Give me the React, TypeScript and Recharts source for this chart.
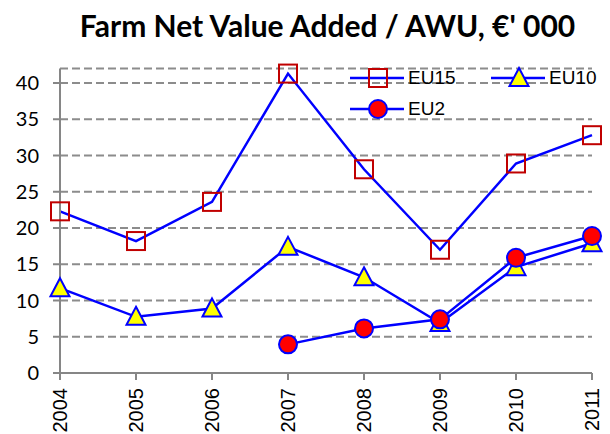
import React from "react";
import { LineChart, Line, XAxis, YAxis, CartesianGrid } from "recharts";

const years = ["2004", "2005", "2006", "2007", "2008", "2009", "2010", "2011"];
const eu15 = [22.3, 18.2, 23.6, 41.3, 28.1, 17.0, 28.9, 32.8];
const eu10 = [11.7, 7.75, 8.9, 17.4, 13.2, 6.9, 14.6, 17.9];
const eu2 = [null, null, null, 3.95, 6.15, 7.4, 15.9, 18.9];
const yTicks = [0, 5, 10, 15, 20, 25, 30, 35, 40];
const seriesNames = ["EU15", "EU10", "EU2"];

const data = years.map((y, i) => ({
  year: y,
  EU15: eu15[i],
  EU10: eu10[i],
  EU2: eu2[i],
}));

const LINE = "#0000FF";
const AXIS = "#868686";

function Square({ cx, cy }: { cx: number; cy: number }) {
  return (
    <rect x={cx - 9} y={cy - 9} width={18} height={18} fill="none" stroke="#C00000" strokeWidth={2} />
  );
}

function Triangle({ cx, cy }: { cx: number; cy: number }) {
  return (
    <polygon
      points={`${cx},${cy - 10} ${cx + 9.5},${cy + 8} ${cx - 9.5},${cy + 8}`}
      fill="#FFFF00"
      stroke={LINE}
      strokeWidth={2}
    />
  );
}

function Circle({ cx, cy }: { cx: number; cy: number }) {
  return <circle cx={cx} cy={cy} r={9} fill="#FF0000" stroke={LINE} strokeWidth={2} />;
}

const markers: Record<string, (p: { cx: number; cy: number }) => React.ReactElement> = {
  EU15: Square,
  EU10: Triangle,
  EU2: Circle,
};

function makeDot(name: string) {
  const Mark = markers[name];
  return (props: any) => {
    const { cx, cy, value, index } = props;
    if (value == null || cx == null || cy == null) return <g key={`${name}-${index}`} />;
    return (
      <g key={`${name}-${index}`}>
        <Mark cx={cx} cy={cy} />
      </g>
    );
  };
}

function YearTick(props: any) {
  const { x, y, payload } = props;
  return (
    <g transform={`translate(${x},${y})`}>
      <text
        x={0}
        y={0}
        dy="0.36em"
        textAnchor="end"
        transform="rotate(-90)"
        fill="#000"
        fontSize={20}
        fontFamily="'Liberation Sans', Arial, sans-serif"
      >
        {payload.value}
      </text>
    </g>
  );
}

// legend drawn as an overlay so it doesn't eat into the plot area
function LegendBox() {
  return (
    <div
      style={{
        position: "absolute",
        left: 350,
        top: 62,
        display: "flex",
        flexWrap: "wrap",
        width: 282,
      }}
    >
      {seriesNames.map((name) => {
        const Mark = markers[name];
        return (
          <div key={name} style={{ display: "flex", alignItems: "center", width: 141, height: 31 }}>
            <svg width={56} height={24} style={{ display: "block" }}>
              <line x1={0} y1={12} x2={54} y2={12} stroke={LINE} strokeWidth={2.5} />
              <Mark cx={28} cy={12} />
            </svg>
            <span
              style={{
                fontFamily: "'Liberation Sans', Arial, sans-serif",
                fontSize: 19,
                color: "#000",
                marginLeft: 2,
              }}
            >
              {name}
            </span>
          </div>
        );
      })}
    </div>
  );
}

export default function App() {
  return (
    <div style={{ position: "absolute", left: 0, top: 0, width: 610, height: 434, background: "#fff" }}>
      <div
        style={{
          position: "absolute",
          left: 0,
          top: 7,
          width: 655,
          textAlign: "center",
          fontFamily: "Lato, sans-serif",
          fontWeight: 700,
          fontSize: 30,
          lineHeight: "36px",
          color: "#000",
          whiteSpace: "nowrap",
        }}
      >
        Farm Net Value Added / AWU, €' 000
      </div>
      <LineChart
        width={610}
        height={434}
        data={data}
        margin={{ top: 68.5, right: 18, bottom: 0, left: 0 }}
      >
        <CartesianGrid
          vertical={false}
          stroke="#8C8C8C"
          strokeWidth={2}
          strokeDasharray="8 4"
        />
        <XAxis
          dataKey="year"
          height={61}
          interval={0}
          tick={<YearTick />}
          tickSize={7}
          tickMargin={8}
          axisLine={{ stroke: AXIS, strokeWidth: 2 }}
          tickLine={{ stroke: AXIS, strokeWidth: 2 }}
        />
        <YAxis
          domain={[0, 42]}
          ticks={yTicks}
          interval={0}
          width={60}
          tickSize={7}
          tickMargin={14}
          tick={{ fill: "#000", fontSize: 20, fontFamily: "Lato, sans-serif" }}
          axisLine={{ stroke: AXIS, strokeWidth: 2 }}
          tickLine={{ stroke: AXIS, strokeWidth: 2 }}
        />
        {seriesNames.map((name) => (
          <Line
            key={name}
            dataKey={name}
            stroke={LINE}
            strokeWidth={2.5}
            dot={makeDot(name)}
            activeDot={false}
            isAnimationActive={false}
            connectNulls={false}
          />
        ))}
      </LineChart>
      <LegendBox />
    </div>
  );
}
